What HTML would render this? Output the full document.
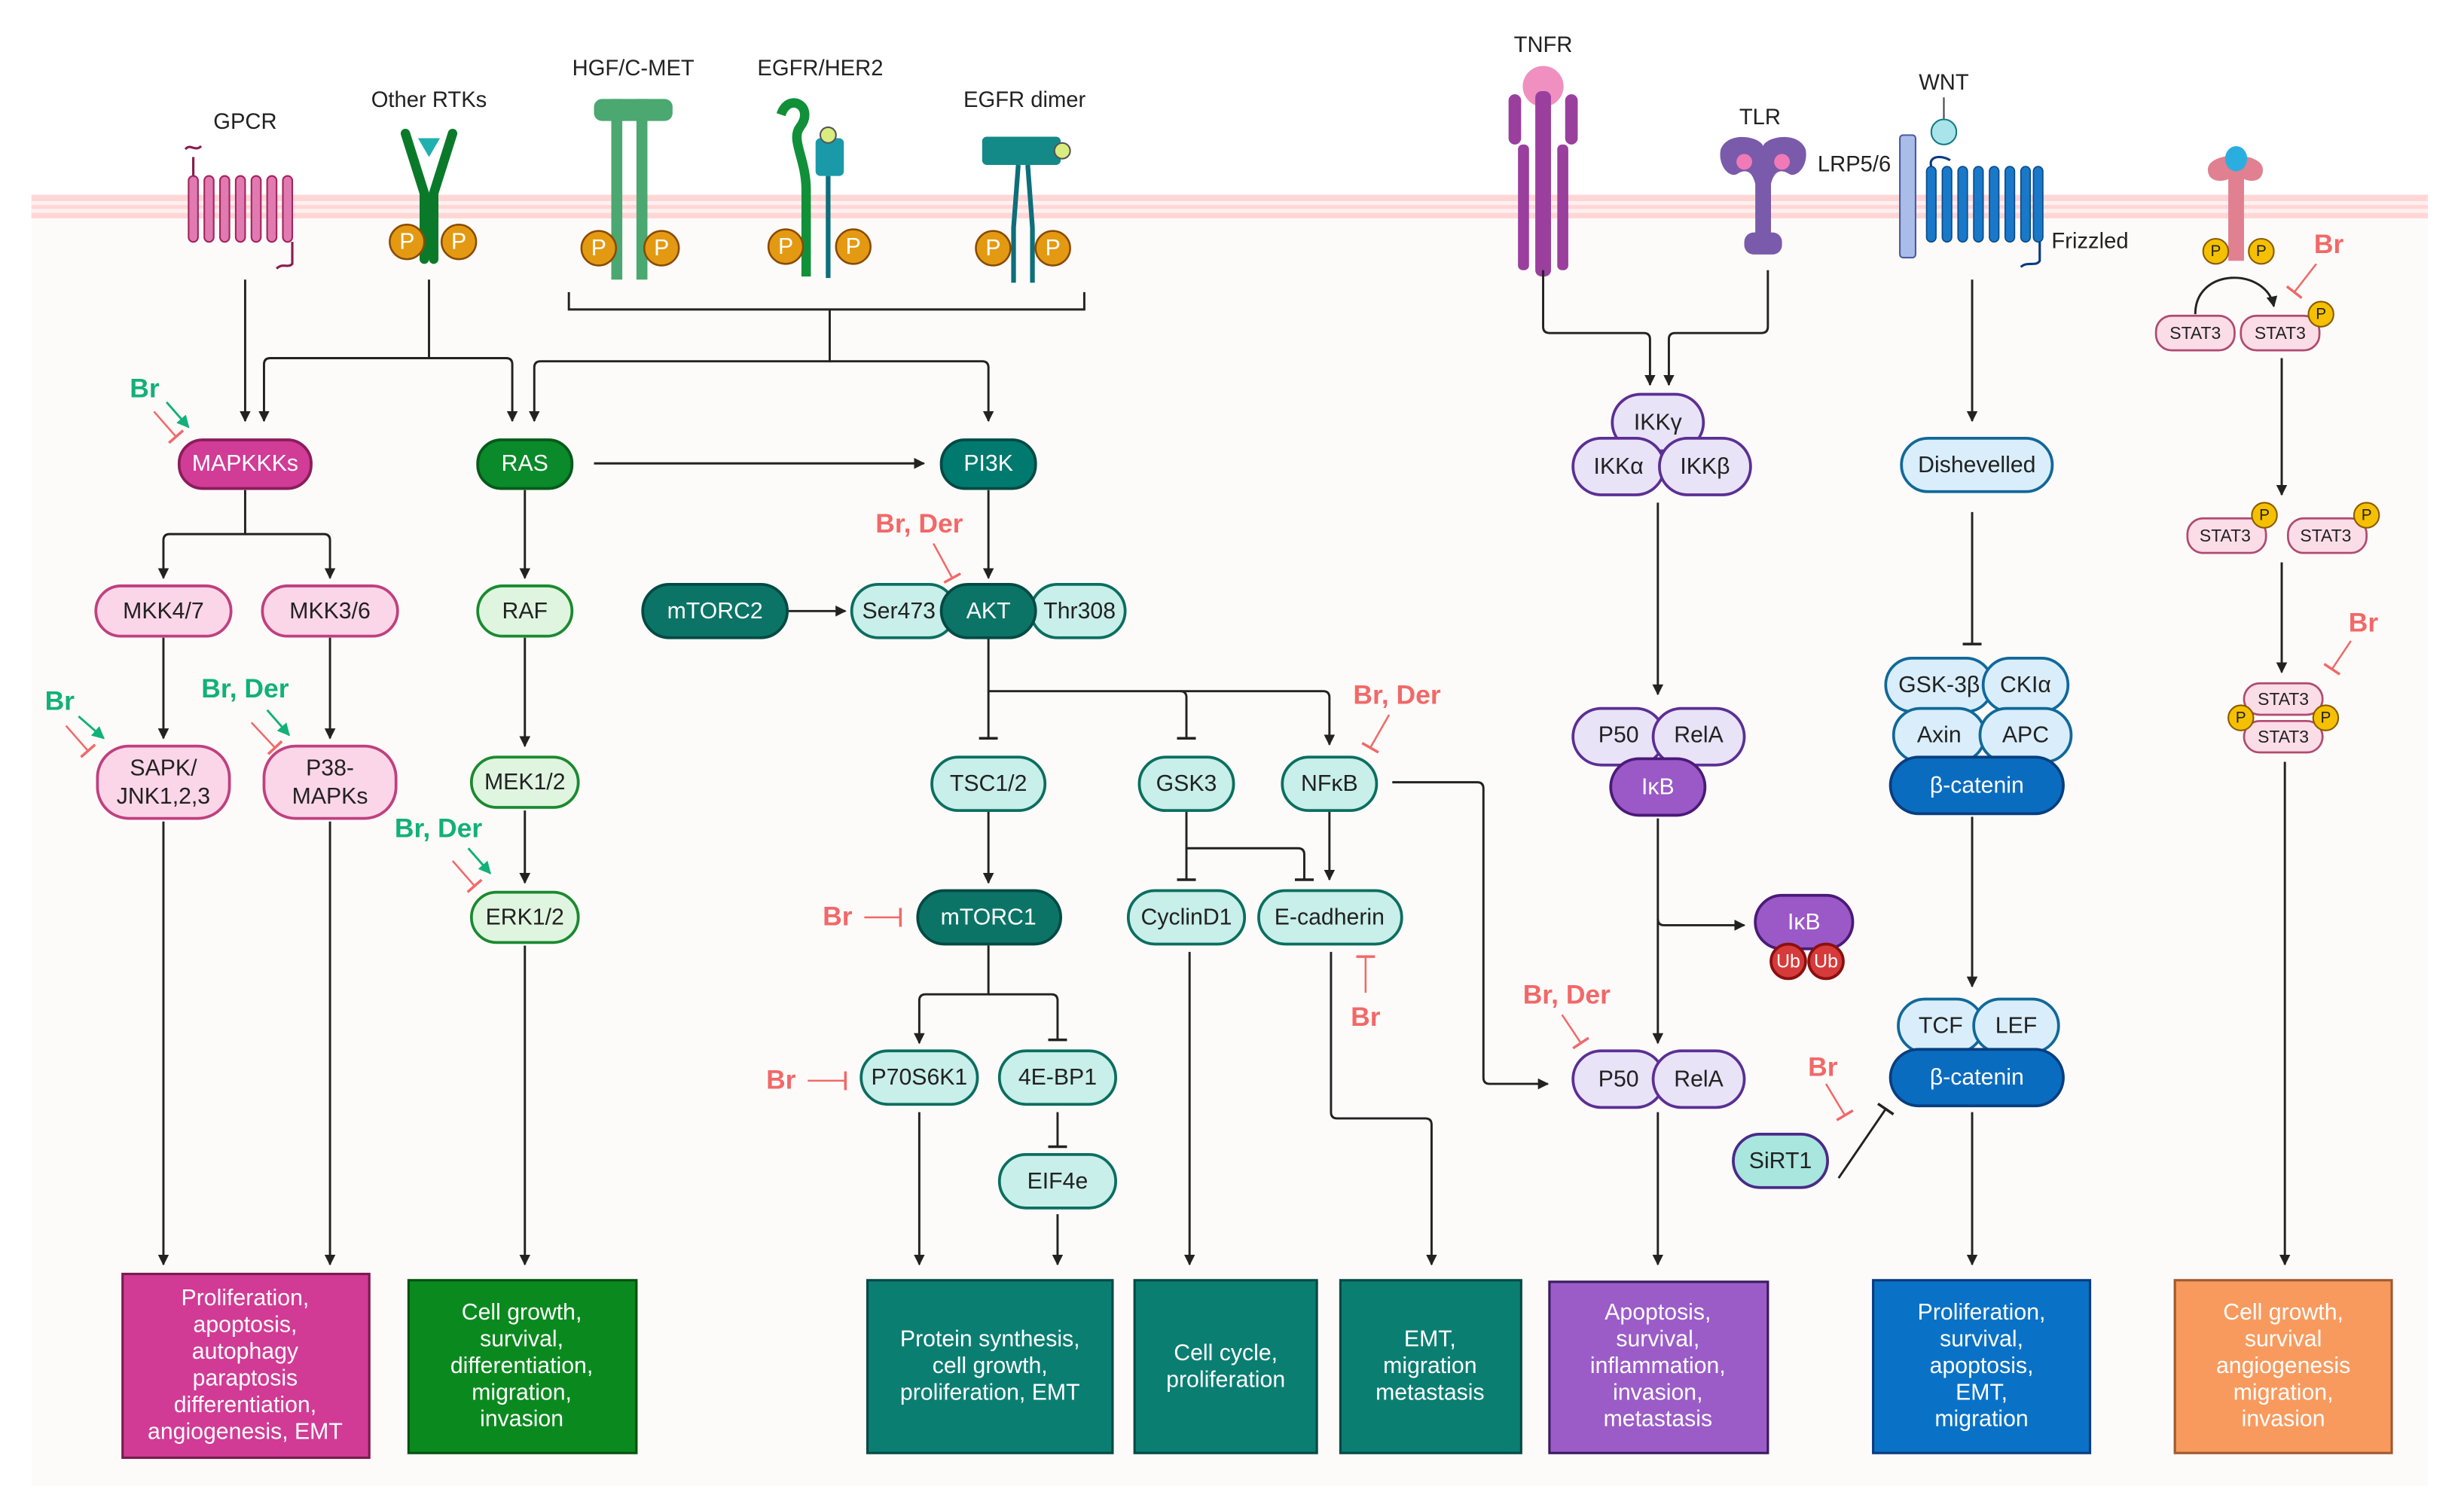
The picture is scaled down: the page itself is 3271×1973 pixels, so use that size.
<!DOCTYPE html>
<html><head><meta charset="utf-8"><style>
html,body{margin:0;padding:0;background:#fff}
svg{display:block}
text{font-family:"Liberation Sans Narrow","Liberation Sans",sans-serif}
.n{font-size:14.5px;text-anchor:middle;dominant-baseline:central;fill:#222}
.w{fill:#fff}
.l{font-size:14px;text-anchor:middle;fill:#222}
.r{font-size:17px;font-weight:bold;fill:#f26868;text-anchor:middle}
.g{font-size:17px;font-weight:bold;fill:#12b07a;text-anchor:middle}
.b{font-size:14.5px;text-anchor:middle;fill:#fff}
.ln{stroke:#222;stroke-width:1.4;fill:none}
</style></head><body>
<svg width="3271" height="1973" viewBox="0 0 1568 946" preserveAspectRatio="none" xmlns="http://www.w3.org/2000/svg">
<defs>
<marker id="a" viewBox="0 0 10 10" refX="9" refY="5" markerWidth="7" markerHeight="7" orient="auto" markerUnits="userSpaceOnUse"><path d="M0,0L10,5L0,10z" fill="#222"/></marker>
<marker id="t" viewBox="0 0 10 10" refX="5" refY="5" markerWidth="12" markerHeight="12" orient="auto" markerUnits="userSpaceOnUse"><path d="M5,0V10" stroke="#222" stroke-width="1.4"/></marker>
<marker id="tr" viewBox="0 0 10 10" refX="5" refY="5" markerWidth="12" markerHeight="12" orient="auto" markerUnits="userSpaceOnUse"><path d="M5,0V10" stroke="#f26868" stroke-width="1.4"/></marker>
<marker id="ag" viewBox="0 0 10 10" refX="9" refY="5" markerWidth="8" markerHeight="8" orient="auto" markerUnits="userSpaceOnUse"><path d="M0,0L10,5L0,10z" fill="#12b07a"/></marker>
</defs>
<rect x="20" y="130" width="1525" height="816" fill="#fcfbf9"/>
<rect x="20" y="124" width="1525" height="15" fill="#ffd6d6"/>
<rect x="20" y="128" width="1525" height="2.5" fill="#fff0f0"/>
<rect x="20" y="133" width="1525" height="2.5" fill="#fff0f0"/>

<text class="l" x="156" y="82">GPCR</text>
<text class="l" x="273" y="68">Other RTKs</text>
<text class="l" x="403" y="48">HGF/C-MET</text>
<text class="l" x="522" y="48">EGFR/HER2</text>
<text class="l" x="652" y="68">EGFR dimer</text>
<text class="l" x="982" y="33">TNFR</text>
<text class="l" x="1120" y="79">TLR</text>
<text class="l" x="1180" y="109">LRP5/6</text>
<text class="l" x="1237" y="57">WNT</text>
<text class="l" x="1330" y="158">Frizzled</text>

<g fill="#e07ab0" stroke="#a3245e" stroke-width="1">
<rect x="120" y="112" width="6" height="42" rx="3"/><rect x="130" y="112" width="6" height="42" rx="3"/><rect x="140" y="112" width="6" height="42" rx="3"/><rect x="150" y="112" width="6" height="42" rx="3"/><rect x="160" y="112" width="6" height="42" rx="3"/><rect x="170" y="112" width="6" height="42" rx="3"/><rect x="180" y="112" width="6" height="42" rx="3"/>
</g>
<path d="M118,95c3,-4 6,2 10,-2M123,112V100M186,154v14c-3,3-6-1-10,3" stroke="#8a1d4f" stroke-width="1.5" fill="none"/>
<path d="M258,85l12,38v42M288,85l-12,38v42" stroke="#0a7a2a" stroke-width="6" fill="none" stroke-linecap="round"/>
<path d="M266,88h14l-7,12z" fill="#1fb0b0"/>
<g fill="#4aa870"><rect x="378" y="63" width="50" height="14" rx="5"/><rect x="389" y="63" width="7" height="115"/><rect x="405" y="63" width="7" height="115"/></g>
<path d="M497,73c5,-15 22,-5 12,8c-6,8 4,20 4,40v55" stroke="#11903a" stroke-width="6" fill="none"/>
<rect x="519" y="88" width="18" height="24" rx="3" fill="#1a9aa8"/><circle cx="527" cy="86" r="5" fill="#d8ec80" stroke="#555"/>
<path d="M527,112v65" stroke="#0d6f7a" stroke-width="3"/>
<rect x="625" y="87" width="50" height="18" rx="3" fill="#138a88"/><circle cx="676" cy="96" r="5" fill="#d8ec80" stroke="#555"/>
<path d="M648,105l-3,40v35M654,105l3,40v35" stroke="#0d6f7a" stroke-width="3" fill="none"/>
<g fill="#e39a12" stroke="#8a4a00" stroke-width="1.2">
<circle cx="259" cy="154" r="11"/><circle cx="292" cy="154" r="11"/>
<circle cx="381" cy="158" r="11"/><circle cx="421" cy="158" r="11"/>
<circle cx="500" cy="157" r="11"/><circle cx="543" cy="157" r="11"/>
<circle cx="632" cy="158" r="11"/><circle cx="670" cy="158" r="11"/>
</g>
<text class="n w" x="259" y="154">P</text><text class="n w" x="292" y="154">P</text>
<text class="n w" x="381" y="158">P</text><text class="n w" x="421" y="158">P</text>
<text class="n w" x="500" y="157">P</text><text class="n w" x="543" y="157">P</text>
<text class="n w" x="632" y="158">P</text><text class="n w" x="670" y="158">P</text>
<circle cx="982" cy="55" r="13" fill="#f090c0"/>
<g fill="#9a3f9e"><rect x="960" y="60" width="8" height="32" rx="4"/><rect x="996" y="60" width="8" height="32" rx="4"/><rect x="977" y="58" width="10" height="118" rx="4"/><rect x="966" y="92" width="7" height="80" rx="3"/><rect x="991" y="92" width="7" height="80" rx="3"/></g>
<path d="M1095,95c5,-12 25,-8 27,-2c2,-6 22,-10 27,2c2,10 -5,18 -10,16c-6,-4 -10,-2 -12,6v40h-10v-40c-2,-8 -6,-10 -12,-6c-5,2 -12,-6 -10,-16z" fill="#7a5aaa"/>
<circle cx="1110" cy="103" r="5" fill="#f07ab8"/><circle cx="1134" cy="103" r="5" fill="#f07ab8"/>
<rect x="1110" y="148" width="24" height="14" rx="6" fill="#7a5aaa"/>
<rect x="1209" y="86" width="10" height="78" rx="2" fill="#aabce8" stroke="#4a5aa0"/>
<path d="M1237,62v14" stroke="#444"/><circle cx="1237" cy="84" r="8" fill="#a8e4ea" stroke="#137a84"/>
<g fill="#1a78c8" stroke="#0a4a8a" stroke-width="0.8"><rect x="1226" y="106" width="6" height="48" rx="3"/><rect x="1236" y="106" width="6" height="48" rx="3"/><rect x="1246" y="106" width="6" height="48" rx="3"/><rect x="1256" y="106" width="6" height="48" rx="3"/><rect x="1266" y="106" width="6" height="48" rx="3"/><rect x="1276" y="106" width="6" height="48" rx="3"/><rect x="1286" y="106" width="6" height="48" rx="3"/><rect x="1294" y="106" width="6" height="48" rx="3"/></g>
<path d="M1229,106c-2,-6 5,-8 12,-4M1298,154v12c-2,4-8,0-12,4" stroke="#0a3a80" stroke-width="1.5" fill="none"/>
<path d="M1405,108c0,-12 35,-12 35,0c0,8 -8,8 -12,6v52h-10v-52c-4,2 -13,2 -13,-6z" fill="#e08090"/>
<ellipse cx="1423" cy="101" rx="7" ry="8" fill="#2aaee0"/>
<circle cx="1410" cy="160" r="8" fill="#f5c000" stroke="#8a5a00"/><circle cx="1439" cy="160" r="8" fill="#f5c000" stroke="#8a5a00"/>
<text class="n" style="font-size:10px" x="1410" y="160">P</text><text class="n" style="font-size:10px" x="1439" y="160">P</text>
<path class="ln" d="M1397,200c0,-30 45,-30 50,-5" marker-end="url(#a)"/>

<path class="ln" d="M156,178V268" marker-end="url(#a)"/>
<path class="ln" d="M273,178V228H172Q168,228 168,232V268" marker-end="url(#a)"/>
<path class="ln" d="M273,228H322Q326,228 326,232V268" marker-end="url(#a)"/>
<path class="ln" d="M362,186V197H690V186M528,197V230H344Q340,230 340,234V268" marker-end="url(#a)"/>
<path class="ln" d="M528,230H625Q629,230 629,234V268" marker-end="url(#a)"/>
<path class="ln" d="M378,295H588" marker-end="url(#a)"/>
<path class="ln" d="M156,312V340H108Q104,340 104,344V368" marker-end="url(#a)"/>
<path class="ln" d="M156,340H206Q210,340 210,344V368" marker-end="url(#a)"/>
<path class="ln" d="M104,406V470" marker-end="url(#a)"/><path class="ln" d="M210,406V470" marker-end="url(#a)"/>
<path class="ln" d="M104,523V805" marker-end="url(#a)"/><path class="ln" d="M210,523V805" marker-end="url(#a)"/>
<path class="ln" d="M334,312V368" marker-end="url(#a)"/><path class="ln" d="M334,406V475" marker-end="url(#a)"/>
<path class="ln" d="M334,516V562" marker-end="url(#a)"/><path class="ln" d="M334,602V805" marker-end="url(#a)"/>
<path class="ln" d="M629,312V368" marker-end="url(#a)"/>
<path class="ln" d="M501,389H538" marker-end="url(#a)"/>
<path class="ln" d="M629,406V470" marker-end="url(#t)"/>
<path class="ln" d="M629,440H842Q846,440 846,444V474" marker-end="url(#a)"/>
<path class="ln" d="M751,440Q755,440 755,444V470" marker-end="url(#t)"/>
<path class="ln" d="M629,516V562" marker-end="url(#a)"/>
<path class="ln" d="M755,516V560" marker-end="url(#t)"/>
<path class="ln" d="M755,540H826Q830,540 830,544V560" marker-end="url(#t)"/>
<path class="ln" d="M846,516V560" marker-end="url(#a)"/>
<path class="ln" d="M886,498H940Q944,498 944,502V686Q944,690 948,690H985" marker-end="url(#a)"/>
<path class="ln" d="M629,602V633H589Q585,633 585,637V664" marker-end="url(#a)"/>
<path class="ln" d="M629,633H669Q673,633 673,637V662" marker-end="url(#t)"/>
<path class="ln" d="M673,708V730" marker-end="url(#t)"/>
<path class="ln" d="M585,708V805" marker-end="url(#a)"/><path class="ln" d="M673,773V805" marker-end="url(#a)"/>
<path class="ln" d="M757,606V805" marker-end="url(#a)"/>
<path class="ln" d="M847,606V708Q847,712 851,712H907Q911,712 911,716V805" marker-end="url(#a)"/>
<path class="ln" d="M982,172V208Q982,212 986,212H1046Q1050,212 1050,216V245" marker-end="url(#a)"/>
<path class="ln" d="M1125,172V208Q1125,212 1121,212H1066Q1062,212 1062,216V245" marker-end="url(#a)"/>
<path class="ln" d="M1055,320V442" marker-end="url(#a)"/>
<path class="ln" d="M1055,521V664" marker-end="url(#a)"/>
<path class="ln" d="M1055,585Q1055,589 1059,589H1110" marker-end="url(#a)"/>
<path class="ln" d="M1055,708V805" marker-end="url(#a)"/>
<path class="ln" d="M1170,750L1200,706" marker-end="url(#t)"/>
<path class="ln" d="M1255,178V268" marker-end="url(#a)"/>
<path class="ln" d="M1255,326V410" marker-end="url(#t)"/>
<path class="ln" d="M1255,520V628" marker-end="url(#a)"/>
<path class="ln" d="M1255,708V805" marker-end="url(#a)"/>
<path class="ln" d="M1452,228V315" marker-end="url(#a)"/>
<path class="ln" d="M1452,358V428" marker-end="url(#a)"/>
<path class="ln" d="M1454,485V805" marker-end="url(#a)"/>

<text class="g" x="92" y="253">Br</text>
<path d="M106,256L120,272" stroke="#12b07a" stroke-width="1.4" marker-end="url(#ag)"/>
<path d="M98,262L112,278" stroke="#f26868" stroke-width="1.2" marker-end="url(#tr)"/>
<text class="g" x="38" y="452">Br</text>
<path d="M50,456L66,470" stroke="#12b07a" stroke-width="1.4" marker-end="url(#ag)"/>
<path d="M42,462L56,478" stroke="#f26868" stroke-width="1.2" marker-end="url(#tr)"/>
<text class="g" x="156" y="444">Br, Der</text>
<path d="M170,452L184,468" stroke="#12b07a" stroke-width="1.4" marker-end="url(#ag)"/>
<path d="M160,460L175,476" stroke="#f26868" stroke-width="1.2" marker-end="url(#tr)"/>
<text class="g" x="279" y="533">Br, Der</text>
<path d="M298,540L312,556" stroke="#12b07a" stroke-width="1.4" marker-end="url(#ag)"/>
<path d="M288,548L302,564" stroke="#f26868" stroke-width="1.2" marker-end="url(#tr)"/>
<text class="r" x="585" y="339">Br, Der</text>
<path d="M594,346L606,368" stroke="#f26868" stroke-width="1.2" marker-end="url(#tr)"/>
<text class="r" x="889" y="448">Br, Der</text>
<path d="M884,455L872,476" stroke="#f26868" stroke-width="1.2" marker-end="url(#tr)"/>
<text class="r" x="533" y="589">Br</text>
<path d="M550,584H573" stroke="#f26868" stroke-width="1.2" marker-end="url(#tr)"/>
<text class="r" x="497" y="693">Br</text>
<path d="M514,688H538" stroke="#f26868" stroke-width="1.2" marker-end="url(#tr)"/>
<text class="r" x="869" y="653">Br</text>
<path d="M869,632V609" stroke="#f26868" stroke-width="1.2" marker-end="url(#tr)"/>
<text class="r" x="997" y="639">Br, Der</text>
<path d="M994,646L1006,664" stroke="#f26868" stroke-width="1.2" marker-end="url(#tr)"/>
<text class="r" x="1160" y="685">Br</text>
<path d="M1162,690L1174,710" stroke="#f26868" stroke-width="1.2" marker-end="url(#tr)"/>
<text class="r" x="1482" y="161">Br</text>
<path d="M1474,168L1460,186" stroke="#f26868" stroke-width="1.2" marker-end="url(#tr)"/>
<text class="r" x="1504" y="402">Br</text>
<path d="M1496,408L1484,426" stroke="#f26868" stroke-width="1.2" marker-end="url(#tr)"/>

<g stroke-width="1.8">
<rect x="114" y="280" width="84" height="31" rx="15" fill="#d03c96" stroke="#8a1d5a"/>
<rect x="304" y="280" width="60" height="31" rx="15" fill="#0a8a2a" stroke="#065a1a"/>
<rect x="599" y="280" width="60" height="31" rx="15" fill="#007a6e" stroke="#044a44"/>
<rect x="61" y="373" width="86" height="32" rx="16" fill="#fbd6e8" stroke="#c0407f"/>
<rect x="167" y="373" width="86" height="32" rx="16" fill="#fbd6e8" stroke="#c0407f"/>
<rect x="62" y="475" width="84" height="46" rx="20" fill="#fbd6e8" stroke="#c0407f"/>
<rect x="168" y="475" width="84" height="46" rx="20" fill="#fbd6e8" stroke="#c0407f"/>
<rect x="304" y="373" width="60" height="32" rx="16" fill="#e0f5e0" stroke="#1a8a30"/>
<rect x="300" y="482" width="68" height="32" rx="16" fill="#e0f5e0" stroke="#1a8a30"/>
<rect x="300" y="568" width="68" height="32" rx="16" fill="#e0f5e0" stroke="#1a8a30"/>
<rect x="409" y="372" width="92" height="34" rx="17" fill="#0b7466" stroke="#044a44"/>
<rect x="542" y="372" width="66" height="34" rx="17" fill="#c8efe9" stroke="#0b6e60"/>
<rect x="656" y="372" width="60" height="34" rx="17" fill="#c8efe9" stroke="#0b6e60"/>
<rect x="599" y="372" width="60" height="34" rx="17" fill="#0b7466" stroke="#044a44"/>
<rect x="593" y="482" width="72" height="34" rx="17" fill="#c8efe9" stroke="#0b6e60"/>
<rect x="725" y="482" width="60" height="34" rx="17" fill="#c8efe9" stroke="#0b6e60"/>
<rect x="816" y="482" width="60" height="34" rx="17" fill="#c8efe9" stroke="#0b6e60"/>
<rect x="584" y="567" width="91" height="34" rx="17" fill="#0b7466" stroke="#044a44"/>
<rect x="718" y="567" width="74" height="34" rx="17" fill="#c8efe9" stroke="#0b6e60"/>
<rect x="801" y="567" width="91" height="34" rx="17" fill="#c8efe9" stroke="#0b6e60"/>
<rect x="548" y="669" width="74" height="34" rx="17" fill="#c8efe9" stroke="#0b6e60"/>
<rect x="636" y="669" width="74" height="34" rx="17" fill="#c8efe9" stroke="#0b6e60"/>
<rect x="636" y="735" width="74" height="34" rx="17" fill="#c8efe9" stroke="#0b6e60"/>
<rect x="1026" y="251" width="58" height="36" rx="18" fill="#e9e3f7" stroke="#5b2f94"/>
<rect x="1001" y="279" width="58" height="36" rx="18" fill="#e9e3f7" stroke="#5b2f94"/>
<rect x="1056" y="279" width="58" height="36" rx="18" fill="#e9e3f7" stroke="#5b2f94"/>
<rect x="1001" y="451" width="58" height="36" rx="18" fill="#e9e3f7" stroke="#5b2f94"/>
<rect x="1052" y="451" width="58" height="36" rx="18" fill="#e9e3f7" stroke="#5b2f94"/>
<rect x="1025" y="483" width="60" height="36" rx="18" fill="#9a59c7" stroke="#4a1a78"/>
<rect x="1117" y="570" width="62" height="34" rx="17" fill="#9a59c7" stroke="#4a1a78"/>
<circle cx="1138" cy="612" r="11" fill="#d63a3a" stroke="#8a1010"/><circle cx="1162" cy="612" r="11" fill="#d63a3a" stroke="#8a1010"/>
<rect x="1001" y="669" width="58" height="36" rx="18" fill="#e9e3f7" stroke="#5b2f94"/>
<rect x="1052" y="669" width="58" height="36" rx="18" fill="#e9e3f7" stroke="#5b2f94"/>
<rect x="1103" y="722" width="60" height="34" rx="17" fill="#a8e6de" stroke="#4a2a8a"/>
<rect x="1210" y="279" width="96" height="34" rx="17" fill="#d9eefa" stroke="#11689a"/>
<rect x="1200" y="419" width="68" height="34" rx="17" fill="#d9eefa" stroke="#11689a"/>
<rect x="1262" y="419" width="54" height="34" rx="17" fill="#d9eefa" stroke="#11689a"/>
<rect x="1205" y="451" width="58" height="34" rx="17" fill="#d9eefa" stroke="#11689a"/>
<rect x="1260" y="451" width="58" height="34" rx="17" fill="#d9eefa" stroke="#11689a"/>
<rect x="1203" y="482" width="110" height="36" rx="18" fill="#0a6cbf" stroke="#083e80"/>
<rect x="1208" y="636" width="54" height="34" rx="17" fill="#d9eefa" stroke="#11689a"/>
<rect x="1256" y="636" width="54" height="34" rx="17" fill="#d9eefa" stroke="#11689a"/>
<rect x="1203" y="668" width="110" height="36" rx="18" fill="#0a6cbf" stroke="#083e80"/>
</g>
<g stroke="#b04a70" stroke-width="1.3" fill="#fbdde8">
<rect x="1372" y="201" width="50" height="22" rx="10"/><rect x="1426" y="201" width="50" height="22" rx="10"/>
<rect x="1392" y="330" width="50" height="22" rx="10"/><rect x="1456" y="330" width="50" height="22" rx="10"/>
<rect x="1428" y="435" width="50" height="20" rx="10"/><rect x="1428" y="459" width="50" height="20" rx="10"/>
</g>
<g fill="#f5c000" stroke="#8a5a00" stroke-width="1">
<circle cx="1477" cy="200" r="8"/><circle cx="1441" cy="328" r="8"/><circle cx="1506" cy="328" r="8"/><circle cx="1426" cy="457" r="8"/><circle cx="1480" cy="457" r="8"/>
</g>
<text class="n" style="font-size:10px" x="1477" y="200">P</text><text class="n" style="font-size:10px" x="1441" y="328">P</text><text class="n" style="font-size:10px" x="1506" y="328">P</text><text class="n" style="font-size:10px" x="1426" y="457">P</text><text class="n" style="font-size:10px" x="1480" y="457">P</text>
<text class="n" style="font-size:11px" x="1397" y="212">STAT3</text><text class="n" style="font-size:11px" x="1451" y="212">STAT3</text>
<text class="n" style="font-size:11px" x="1416" y="341">STAT3</text><text class="n" style="font-size:11px" x="1480" y="341">STAT3</text>
<text class="n" style="font-size:11px" x="1453" y="445">STAT3</text><text class="n" style="font-size:11px" x="1453" y="469">STAT3</text>
<text class="n w" x="156" y="295">MAPKKKs</text>
<text class="n w" x="334" y="295">RAS</text>
<text class="n w" x="629" y="295">PI3K</text>
<text class="n" x="104" y="389">MKK4/7</text>
<text class="n" x="210" y="389">MKK3/6</text>
<text class="n" x="104" y="489">SAPK/</text><text class="n" x="104" y="507">JNK1,2,3</text>
<text class="n" x="210" y="489">P38-</text><text class="n" x="210" y="507">MAPKs</text>
<text class="n" x="334" y="389">RAF</text>
<text class="n" x="334" y="498">MEK1/2</text>
<text class="n" x="334" y="584">ERK1/2</text>
<text class="n w" x="455" y="389">mTORC2</text>
<text class="n" x="572" y="389">Ser473</text>
<text class="n w" x="629" y="389">AKT</text>
<text class="n" x="687" y="389">Thr308</text>
<text class="n" x="629" y="499">TSC1/2</text>
<text class="n" x="755" y="499">GSK3</text>
<text class="n" x="846" y="499">NFκB</text>
<text class="n w" x="629" y="584">mTORC1</text>
<text class="n" x="755" y="584">CyclinD1</text>
<text class="n" x="846" y="584">E-cadherin</text>
<text class="n" x="585" y="686">P70S6K1</text>
<text class="n" x="673" y="686">4E-BP1</text>
<text class="n" x="673" y="752">EIF4e</text>
<text class="n" x="1055" y="269">IKKγ</text>
<text class="n" x="1030" y="297">IKKα</text>
<text class="n" x="1085" y="297">IKKβ</text>
<text class="n" x="1030" y="468">P50</text>
<text class="n" x="1081" y="468">RelA</text>
<text class="n w" x="1055" y="501">IκB</text>
<text class="n w" x="1148" y="587">IκB</text>
<text class="n w" style="font-size:12px" x="1138" y="612">Ub</text><text class="n w" style="font-size:12px" x="1162" y="612">Ub</text>
<text class="n" x="1030" y="687">P50</text>
<text class="n" x="1081" y="687">RelA</text>
<text class="n" x="1133" y="739">SiRT1</text>
<text class="n" x="1258" y="296">Dishevelled</text>
<text class="n" x="1234" y="436">GSK-3β</text>
<text class="n" x="1289" y="436">CKIα</text>
<text class="n" x="1234" y="468">Axin</text>
<text class="n" x="1289" y="468">APC</text>
<text class="n w" x="1258" y="500">β-catenin</text>
<text class="n" x="1235" y="653">TCF</text>
<text class="n" x="1283" y="653">LEF</text>
<text class="n w" x="1258" y="686">β-catenin</text>

<rect x="78" y="811" width="157" height="117" fill="#d13b95" stroke="#7a1a50" stroke-width="1.5"/>
<rect x="260" y="815" width="145" height="110" fill="#0a8a1e" stroke="#055010" stroke-width="1.5"/>
<rect x="552" y="815" width="156" height="110" fill="#0b7e72" stroke="#054a44" stroke-width="1.5"/>
<rect x="722" y="815" width="116" height="110" fill="#0b7e72" stroke="#054a44" stroke-width="1.5"/>
<rect x="853" y="815" width="115" height="110" fill="#0b7e72" stroke="#054a44" stroke-width="1.5"/>
<rect x="986" y="816" width="139" height="109" fill="#9b5cc8" stroke="#3a1a60" stroke-width="1.5"/>
<rect x="1192" y="815" width="138" height="110" fill="#0a72c6" stroke="#083a80" stroke-width="1.5"/>
<rect x="1384" y="815" width="138" height="110" fill="#f89a5e" stroke="#a05a30" stroke-width="1.5"/>
<text class="b"><tspan x="156" y="831">Proliferation,</tspan><tspan x="156" y="848">apoptosis,</tspan><tspan x="156" y="865">autophagy</tspan><tspan x="156" y="882">paraptosis</tspan><tspan x="156" y="899">differentiation,</tspan><tspan x="156" y="916">angiogenesis, EMT</tspan></text>
<text class="b"><tspan x="332" y="840">Cell growth,</tspan><tspan x="332" y="857">survival,</tspan><tspan x="332" y="874">differentiation,</tspan><tspan x="332" y="891">migration,</tspan><tspan x="332" y="908">invasion</tspan></text>
<text class="b"><tspan x="630" y="857">Protein synthesis,</tspan><tspan x="630" y="874">cell growth,</tspan><tspan x="630" y="891">proliferation, EMT</tspan></text>
<text class="b"><tspan x="780" y="866">Cell cycle,</tspan><tspan x="780" y="883">proliferation</tspan></text>
<text class="b"><tspan x="910" y="857">EMT,</tspan><tspan x="910" y="874">migration</tspan><tspan x="910" y="891">metastasis</tspan></text>
<text class="b"><tspan x="1055" y="840">Apoptosis,</tspan><tspan x="1055" y="857">survival,</tspan><tspan x="1055" y="874">inflammation,</tspan><tspan x="1055" y="891">invasion,</tspan><tspan x="1055" y="908">metastasis</tspan></text>
<text class="b"><tspan x="1261" y="840">Proliferation,</tspan><tspan x="1261" y="857">survival,</tspan><tspan x="1261" y="874">apoptosis,</tspan><tspan x="1261" y="891">EMT,</tspan><tspan x="1261" y="908">migration</tspan></text>
<text class="b"><tspan x="1453" y="840">Cell growth,</tspan><tspan x="1453" y="857">survival</tspan><tspan x="1453" y="874">angiogenesis</tspan><tspan x="1453" y="891">migration,</tspan><tspan x="1453" y="908">invasion</tspan></text>
</svg>
</body></html>
